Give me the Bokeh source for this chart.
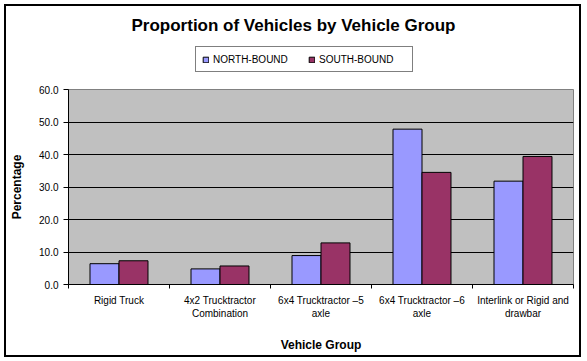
import numpy as np
from bokeh.plotting import figure
from bokeh.layouts import column
from bokeh.models import (ColumnDataSource, FixedTicker, NumeralTickFormatter,
                          Legend, LegendItem, Label, Range1d)
from bokeh.embed import file_html
from bokeh.resources import INLINE

categories = ["Rigid Truck", "4x2 Trucktractor Combination",
              "6x4 Trucktractor \u20135 axle", "6x4 Trucktractor \u20136 axle",
              "Interlink or Rigid and drawbar"]
tick_labels = ["Rigid Truck", "4x2 Trucktractor\nCombination",
               "6x4 Trucktractor \u20135\naxle", "6x4 Trucktractor \u20136\naxle",
               "Interlink or Rigid and\ndrawbar"]
series_names = ["NORTH-BOUND", "SOUTH-BOUND"]
north = [6.4, 4.8, 8.9, 47.8, 31.8]
south = [7.3, 5.7, 12.8, 34.5, 39.4]
y_ticks = [0, 10, 20, 30, 40, 50, 60]
title_text = "Proportion of Vehicles by Vehicle Group"

FONT = "Liberation Sans"
C_N, C_S = "#9999FF", "#993366"
W = 573          # content width
TOP_H = 75       # title + legend strip
MAIN_H = 274

idx = np.arange(len(categories))
bw = 0.287
src = ColumnDataSource(dict(
    xn=idx + 0.5 - bw / 2, xs=idx + 0.5 + bw / 2,
    north=north, south=south, cat=categories))

# ---------- title / legend strip ----------
# (its frame is aligned with the main chart's frame by the column layout;
#  its ranges are set far away so the proxy bars used for the legend stay out of view)
top = figure(width=W, height=TOP_H, x_range=Range1d(1000, 1005),
             y_range=Range1d(1000, 1001),
             min_border=0, x_axis_location=None, y_axis_location=None,
             output_backend="svg", toolbar_location=None)
top.grid.grid_line_color = None
top.outline_line_color = None
top.background_fill_color = "white"
top.border_fill_color = "white"

dn = top.vbar(x="xn", top="north", width=bw, source=src, fill_color=C_N,
              line_color="black")
ds = top.vbar(x="xs", top="south", width=bw, source=src, fill_color=C_S,
              line_color="black")

top.add_layout(Label(x=225, y=56, x_units="screen", y_units="screen",
                     text=title_text, text_font=FONT, text_font_size="17px",
                     text_font_style="bold", text_align="center",
                     text_baseline="middle", text_color="black"))

legend = Legend(items=[LegendItem(label=series_names[0], renderers=[dn]),
                       LegendItem(label=series_names[1], renderers=[ds])],
                location=(127, 9), orientation="horizontal",
                glyph_width=7, glyph_height=7, label_standoff=4,
                label_width=87, label_height=12, padding=6, spacing=8,
                margin=0, border_line_color="black", border_line_width=1,
                background_fill_color="white", background_fill_alpha=1,
                label_text_font=FONT, label_text_font_size="10px",
                label_text_color="black")
top.add_layout(legend, "center")

# ---------- main chart ----------
p = figure(frame_width=505, frame_height=195, width=W, height=MAIN_H,
           min_border_left=62, min_border_right=6, min_border_top=8,
           min_border_bottom=71, x_range=Range1d(0, len(categories)),
           y_range=Range1d(0, 60), output_backend="svg", toolbar_location=None)

p.background_fill_color = "#C0C0C0"
p.border_fill_color = "white"
p.outline_line_color = "#808080"

p.vbar(x="xn", top="north", width=bw, source=src, fill_color=C_N,
       line_color="black", line_width=1)
p.vbar(x="xs", top="south", width=bw, source=src, fill_color=C_S,
       line_color="black", line_width=1)

p.xgrid.grid_line_color = None
p.ygrid.grid_line_color = "black"
p.ygrid.grid_line_width = 1
p.ygrid.ticker = FixedTicker(ticks=y_ticks)

xa = p.xaxis[0]
xa.ticker = FixedTicker(ticks=list(idx + 0.5), minor_ticks=list(range(len(categories) + 1)))
xa.major_label_overrides = {float(i + 0.5): t for i, t in enumerate(tick_labels)}
xa.major_tick_in = 0
xa.major_tick_out = 0
xa.minor_tick_in = 0
xa.minor_tick_out = 4
xa.minor_tick_line_color = "black"
xa.axis_line_color = "black"
xa.major_label_standoff = 6
xa.major_label_text_font = FONT
xa.major_label_text_font_size = "10px"
xa.major_label_text_color = "black"
xa.axis_label = "Vehicle Group"
xa.axis_label_text_font = FONT
xa.axis_label_text_font_size = "12px"
xa.axis_label_text_font_style = "bold"
xa.axis_label_text_color = "black"
xa.axis_label_standoff = 16

ya = p.yaxis[0]
ya.ticker = FixedTicker(ticks=y_ticks)
ya.formatter = NumeralTickFormatter(format="0.0")
ya.major_tick_in = 0
ya.major_tick_out = 5
ya.minor_tick_line_color = None
ya.axis_line_color = "black"
ya.major_label_text_font = FONT
ya.major_label_text_font_size = "10px"
ya.major_label_text_color = "black"
ya.axis_label = "Percentage"
ya.axis_label_text_font = FONT
ya.axis_label_text_font_size = "12px"
ya.axis_label_text_font_style = "bold"
ya.axis_label_text_color = "black"
ya.axis_label_standoff = 12

layout = column(top, p, spacing=0)
layout.styles = {"border": "2px solid black", "margin": "4px 0 0 4px",
                 "background-color": "white"}

open("out.html", "w").write(file_html(layout, INLINE))
